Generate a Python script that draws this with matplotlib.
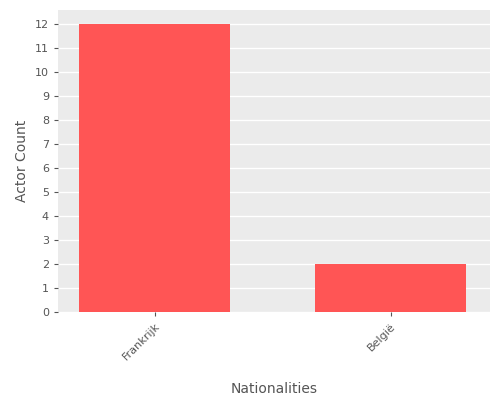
import matplotlib
matplotlib.use("Agg")
import matplotlib.pyplot as plt

nationalities = ["Frankrijk", "België"]
counts = [12, 2]

fig = plt.figure(figsize=(5, 4), dpi=100)
ax = fig.add_axes([0.116, 0.22, 0.864, 0.755])
ax.set_facecolor("#EBEBEB")
ax.bar(range(len(nationalities)), counts, width=0.64, color="#FF5555", zorder=2)
ax.set_xlim(-0.41, 1.42)
ax.set_ylim(0, 12.58)
ax.set_yticks(range(0, 13))
ax.set_xticks(range(len(nationalities)))
ax.set_xticklabels(nationalities, rotation=45, ha="right", rotation_mode="anchor")
ax.grid(axis="y", color="white", linewidth=1, zorder=1)
for s in ax.spines.values():
    s.set_visible(False)
ax.tick_params(colors="#555555", labelcolor="#555555", labelsize=8, length=3)
ax.tick_params(axis="x", colors="#555555")
ax.set_xlabel("Nationalities", color="#555555", fontsize=10, labelpad=14)
ax.set_ylabel("Actor Count", color="#555555", fontsize=10)
fig.savefig("out.png", dpi=100)
